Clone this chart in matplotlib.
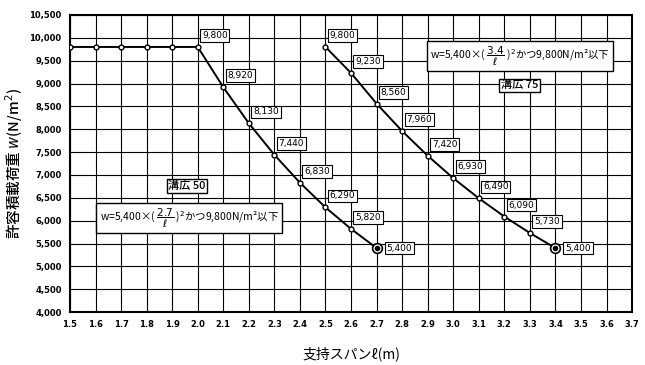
import matplotlib.pyplot as plt
import numpy as np

plt.rcParams['font.family'] = ['Noto Sans CJK JP', 'DejaVu Sans']

# 溝広 50
span_50 = [1.5, 1.6, 1.7, 1.8, 1.9, 2.0, 2.1, 2.2, 2.3, 2.4, 2.5, 2.6, 2.7]
load_50 = [9800, 9800, 9800, 9800, 9800, 9800, 8920, 8130, 7440, 6830, 6290, 5820, 5400]
# 溝広 75
span_75 = [2.5, 2.6, 2.7, 2.8, 2.9, 3.0, 3.1, 3.2, 3.3, 3.4]
load_75 = [9800, 9230, 8560, 7960, 7420, 6930, 6490, 6090, 5730, 5400]

# which points get a value label
labeled_50 = [2.0, 2.1, 2.2, 2.3, 2.4, 2.5, 2.6, 2.7]
labeled_75 = span_75

fig = plt.figure(figsize=(6.45, 3.65), dpi=100)
ax = fig.add_axes([0.1085, 0.145, 0.8715, 0.814])

ax.set_xlim(1.5, 3.7)
ax.set_ylim(4000, 10500)
xt = np.round(np.arange(1.5, 3.71, 0.1), 1)
ax.set_xticks(xt)
ax.set_yticks(np.arange(4000, 10501, 500))
ax.set_xticklabels([f'{v:.1f}' for v in xt], fontsize=6,
                   family='DejaVu Sans', fontweight='bold')
ax.set_yticklabels([f'{v:,}' for v in range(4000, 10501, 500)], fontsize=6,
                   family='DejaVu Sans', fontweight='bold')
ax.tick_params(length=0, pad=6)
ax.grid(True, color='black', linewidth=0.8)
for s in ax.spines.values():
    s.set_linewidth(1.5)

box = dict(boxstyle='square,pad=0.2', fc='white', ec='black', lw=0.8)

for xs, ys, lab in [(span_50, load_50, labeled_50), (span_75, load_75, labeled_75)]:
    ax.plot(xs, ys, color='black', linewidth=1.4, marker='o', markersize=3.5,
            markerfacecolor='white', markeredgecolor='black', markeredgewidth=1.0,
            zorder=3)
    # end point: double circle
    ax.plot(xs[-1], ys[-1], marker='o', markersize=7, markerfacecolor='white',
            markeredgecolor='black', markeredgewidth=1.2, zorder=4)
    ax.plot(xs[-1], ys[-1], marker='o', markersize=3, color='black', zorder=5)
    for x, y in zip(xs, ys):
        if x not in lab:
            continue
        if x == xs[-1]:
            ax.annotate(f'{y:,}', (x, y), xytext=(7, 0), textcoords='offset points',
                        ha='left', va='center', fontsize=6.5, family='DejaVu Sans',
                        bbox=box, zorder=6)
        else:
            ax.annotate(f'{y:,}', (x, y), xytext=(3, 5), textcoords='offset points',
                        ha='left', va='bottom', fontsize=6.5, family='DejaVu Sans',
                        bbox=box, zorder=6)

tbox = dict(boxstyle='square,pad=0.3', fc='white', ec='black', lw=1.0)
nbox = dict(boxstyle='square,pad=0.15', fc='white', ec='black', lw=1.0)
ax.text(1.958, 6757, '溝広 50', fontsize=8, fontweight='medium', ha='center',
        va='center', bbox=nbox, zorder=6)
ax.text(1.966, 6057, r'w=5,400×( $\dfrac{2.7}{\ell}$ )$^2$かつ9,800N/m²以下', fontsize=7.5,
        ha='center', va='center', bbox=tbox, zorder=6)
ax.text(3.26, 9600, r'w=5,400×( $\dfrac{3.4}{\ell}$ )$^2$かつ9,800N/m²以下', fontsize=7.5,
        ha='center', va='center', bbox=tbox, zorder=6)
ax.text(3.26, 8960, '溝広 75', fontsize=8, fontweight='medium', ha='center',
        va='center', bbox=nbox, zorder=6)

ax.set_xlabel('支持スパンℓ(m)', fontsize=10, labelpad=12)
ax.set_ylabel('許容積載荷重 $w$(N/m$^2$)', fontsize=10.5, fontweight='medium', labelpad=3)

fig.savefig('out.png', dpi=100)
